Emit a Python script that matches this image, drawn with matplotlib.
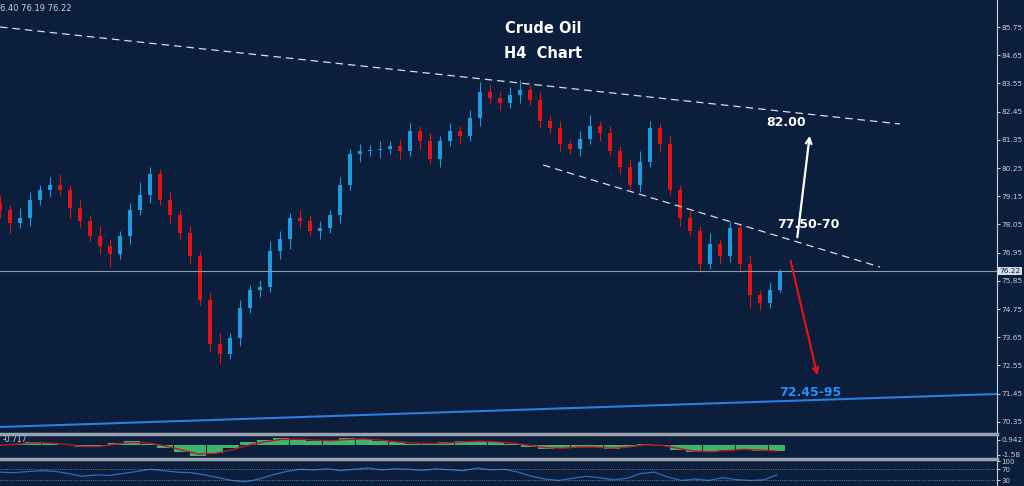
import matplotlib
matplotlib.use("Agg")
import matplotlib.pyplot as plt
import numpy as np

# close prices, one candle every 10 px of chart width
closes = [78.6,78.1,78.3,79.0,79.4,79.6,79.4,78.7,78.2,77.6,77.2,76.9,77.6,78.6,79.2,80.0,79.0,78.4,77.7,76.8,
          75.1,73.4,73.0,73.6,74.8,75.5,75.6,77.0,77.5,78.3,78.2,77.8,77.9,78.4,79.6,80.8,80.9,80.95,81.0,81.1,
          80.9,81.7,81.3,80.6,81.3,81.7,81.5,82.2,83.2,83.0,82.8,83.1,83.3,82.9,82.1,81.8,81.2,81.0,81.4,81.9,
          81.6,80.9,80.3,79.6,80.5,81.8,81.2,79.4,78.3,77.8,76.5,77.3,76.8,77.9,76.5,75.3,75.0,75.5,76.22]
first_open = 78.9
wick_up = [0.3,0.2,0.4,0.3,0.2,0.3,0.4,0.2,0.3,0.2,0.4,0.3,0.2,0.3,0.5,0.3,0.2,0.3,0.2,0.3,
           0.2,0.3,0.4,0.2,0.3,0.2,0.3,0.4,0.3,0.2,0.3,0.2,0.3,0.2,0.3,0.2,0.3,0.2,0.3,0.2,
           0.3,0.3,0.2,0.3,0.2,0.3,0.2,0.3,0.4,0.3,0.2,0.3,0.4,0.2,0.3,0.2,0.3,0.2,0.3,0.4,
           0.2,0.3,0.2,0.3,0.4,0.3,0.2,0.3,0.2,0.3,0.2,0.4,0.2,0.3,0.2,0.3,0.2,0.3,0.1]
wick_dn = [0.3,0.4,0.2,0.3,0.2,0.3,0.2,0.4,0.3,0.2,0.3,0.5,0.2,0.3,0.2,0.3,0.2,0.3,0.2,0.3,
           0.2,0.3,0.4,0.2,0.3,0.2,0.3,0.2,0.3,0.4,0.3,0.2,0.3,0.2,0.3,0.2,0.3,0.2,0.3,0.2,
           0.3,0.2,0.3,0.2,0.3,0.2,0.3,0.2,0.3,0.2,0.3,0.2,0.3,0.2,0.3,0.2,0.3,0.2,0.3,0.2,
           0.3,0.2,0.3,0.2,0.3,0.2,0.3,0.2,0.3,0.2,0.3,0.2,0.3,0.2,0.3,0.5,0.3,0.2,0.1]
price_ticks = [85.75,84.65,83.55,82.45,81.35,80.25,79.15,78.05,76.95,75.85,74.75,73.65,72.55,71.45,70.35]
macd_hist = [0.1,0.3,0.5,0.4,0.1,-0.3,-0.1,0.4,0.7,0.3,-0.4,-1.2,-1.8,-1.3,-0.4,0.5,1.0,1.2,1.0,0.7,
             0.9,1.2,1.1,0.8,0.5,0.3,0.2,0.5,0.8,0.7,0.5,0.3,-0.3,-0.6,-0.4,-0.2,-0.3,-0.6,-0.2,0.2,
             -0.1,-0.8,-1.2,-1.1,-0.8,-0.6,-0.9,-1.0]
macd_signal = [0.0,0.2,0.4,0.4,0.2,-0.2,-0.2,0.2,0.5,0.4,-0.1,-0.8,-1.5,-1.4,-0.8,0.0,0.6,1.0,1.1,0.9,
               0.8,1.0,1.1,0.9,0.6,0.4,0.3,0.4,0.6,0.7,0.6,0.4,0.0,-0.4,-0.5,-0.3,-0.3,-0.5,-0.3,0.1,
               0.0,-0.5,-1.0,-1.1,-0.9,-0.7,-0.8,-1.0]
rsi = [60,58,62,65,63,55,45,50,48,55,62,70,65,60,58,50,40,30,25,35,50,62,70,68,72,65,70,75,68,72,
       70,66,72,68,65,75,68,70,60,45,35,30,38,45,40,32,38,55,60,42,30,35,30,40,33,30,32,50]

BG = "#0b1e3b"
fig = plt.figure(figsize=(10.24, 4.86), dpi=100, facecolor=BG)
W, H = 1024, 486
ax = fig.add_axes([0, 1-432/H, 997/W, 432/H], facecolor=BG)

def p2y(y):
    return 85.75 - (y-27)*1.1/28.2

xs = np.arange(len(closes))*10
opens = [first_open] + closes[:-1]
for x, o, c, wu, wd in zip(xs, opens, closes, wick_up, wick_dn):
    col = "#1e9be0" if c >= o else "#e01414"
    ax.vlines(x, min(o, c)-wd, max(o, c)+wu, color=col, lw=0.8)
    ax.bar(x, abs(c-o) if abs(c-o) > 0.03 else 0.03, bottom=min(o, c), width=4, color=col, lw=0)

ax.axhline(closes[-1], color="#8a9aaa", lw=0.8)
ax.plot([0, 900], [p2y(27), p2y(124)], color="#d8dde5", lw=0.9, ls=(0, (6, 4)))
ax.plot([543, 880], [p2y(165), p2y(267)], color="#d8dde5", lw=0.9, ls=(0, (6, 4)))
ax.plot([0, 997], [p2y(427), p2y(394)], color="#2a7fe0", lw=1.5)
ax.annotate("", xy=(810, p2y(133)), xytext=(797, p2y(240)),
            arrowprops=dict(arrowstyle="->", color="white", lw=1.6))
ax.annotate("", xy=(818, p2y(378)), xytext=(790, p2y(258)),
            arrowprops=dict(arrowstyle="->", color="#e01414", lw=1.6))
ax.text(786, p2y(122), "82.00", color="white", fontsize=9, fontweight="bold", ha="center", va="center")
ax.text(808, p2y(224), "77.50-70", color="white", fontsize=9, fontweight="bold", ha="center", va="center")
ax.text(810, p2y(392), "72.45-95", color="#2a8fff", fontsize=9, fontweight="bold", ha="center", va="center")
ax.text(543, p2y(28), "Crude Oil", color="white", fontsize=10.5, fontweight="bold", ha="center", va="center")
ax.text(543, p2y(53), "H4  Chart", color="white", fontsize=10.5, fontweight="bold", ha="center", va="center")
ax.text(0, p2y(8), "6.40 76.19 76.22", color="#c8d0da", fontsize=6, va="center")

ax.set_xlim(0, 997)
ax.set_ylim(p2y(432), p2y(0))
ax.yaxis.tick_right()
ax.set_yticks(price_ticks)
ax.set_yticklabels([f"{v:.2f}" for v in price_ticks])
ax.tick_params(axis="y", colors="#c8d0da", labelsize=5.3, length=2, pad=1)
ax.set_xticks([])
for s in ["top", "left", "bottom"]:
    ax.spines[s].set_visible(False)
ax.spines["right"].set_color("#c8d0da")
ax.text(1010, closes[-1], f"{closes[-1]:.2f}", color="#0b1e3b", fontsize=5.3, ha="center", va="center",
        bbox=dict(boxstyle="square,pad=0.15", fc="#d8dde5", ec="none"), clip_on=False)

# separators
for yy in [434, 459]:
    fig.add_artist(plt.Line2D([0, 997/W], [1-yy/H]*2, color="#9aa3ad", lw=2.5))

ax2 = fig.add_axes([0, 1-457/H, 997/W, 21/H], facecolor=BG)
mx = np.linspace(0, 777, len(macd_hist))
ax2.bar(mx, macd_hist, width=16, color="#3cb46e", lw=0)
ax2.plot(mx, macd_signal, color="#c0141e", lw=1)
ax2.set_xlim(0, 997); ax2.set_ylim(-2.0, 1.6)
ax2.text(3, 1.0, "-0.717", color="#c8d0da", fontsize=5.5, va="center")
ax2.yaxis.tick_right()
ax2.set_yticks([0.942, -1.58]); ax2.set_yticklabels(["0.942", "-1.58"])
ax2.tick_params(axis="y", colors="#c8d0da", labelsize=5.3, length=2, pad=1)
ax2.set_xticks([])

ax3 = fig.add_axes([0, 0, 997/W, 25/H], facecolor=BG)
rx = np.linspace(0, 777, len(rsi))
ax3.plot(rx, rsi, color="#2a6fc0", lw=0.9)
for lv in [70, 30]:
    ax3.axhline(lv, color="#8a9aaa", lw=0.6, ls=":")
ax3.set_xlim(0, 997); ax3.set_ylim(10, 100)
ax3.yaxis.tick_right()
ax3.set_yticks([100, 70, 30]); ax3.set_yticklabels(["100", "70", "30"])
ax3.tick_params(axis="y", colors="#c8d0da", labelsize=5, length=2, pad=1)
ax3.set_xticks([])
for a in (ax2, ax3):
    for s in ["top", "left", "bottom"]:
        a.spines[s].set_visible(False)
    a.spines["right"].set_color("#c8d0da")

fig.savefig("out.png", dpi=100, facecolor=BG)
